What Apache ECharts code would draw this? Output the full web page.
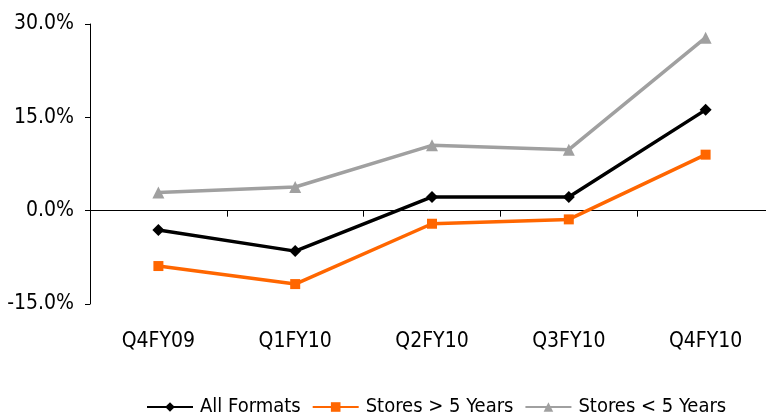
<!DOCTYPE html>
<html>
<head>
<meta charset="utf-8">
<script src="https://cdn.jsdelivr.net/npm/echarts@6/dist/echarts.min.js"></script>
<style>
  html, body { margin: 0; padding: 0; background: #fff; }
  #chart { width: 766px; height: 417px; }
</style>
</head>
<body>
<div id="chart"></div>
<script>
// Quarterly same-store growth, in percent
const quarters = ['Q4FY09', 'Q1FY10', 'Q2FY10', 'Q3FY10', 'Q4FY10'];
const allFormats = [-3.1, -6.5, 2.2, 2.2, 16.2];
const storesOver5 = [-8.9, -11.8, -2.1, -1.4, 9.0];
const storesUnder5 = [2.9, 3.8, 10.5, 9.8, 27.8];
const yTicks = { min: -15, max: 30, step: 15 };

const FONT = '"DejaVu Sans Condensed", "Liberation Sans", Arial, sans-serif';

const chart = echarts.init(document.getElementById('chart'), null, { renderer: 'canvas' });

function lineSeries(name, data, color, symbol, size) {
  return {
    name: name,
    type: 'line',
    data: data,
    symbol: symbol,
    symbolSize: size,
    showAllSymbol: true,
    lineStyle: { color: color, width: 3.5 },
    itemStyle: { color: color },
    emphasis: { disabled: true },
    animation: false
  };
}

chart.setOption({
  backgroundColor: '#ffffff',
  animation: false,
  // plot area runs a little past the right edge of the canvas
  grid: {
    left: 90, top: 24, width: 684, height: 280,
    containLabel: false,
    outerBoundsMode: 'none'
  },
  legend: {
    top: 397,
    left: 146,
    width: 640,
    padding: 0,
    itemWidth: 46,
    itemHeight: 12,
    itemGap: 11,
    textStyle: { fontFamily: FONT, fontSize: 20, color: '#000', padding: [0, 0, 0, 2] },
    data: ['All Formats', 'Stores > 5 Years', 'Stores < 5 Years']
  },
  xAxis: [
    {
      type: 'category',
      data: quarters,
      boundaryGap: true,
      axisLine: { onZero: true, lineStyle: { color: '#000', width: 1 } },
      axisTick: { show: true, length: 6, lineStyle: { color: '#000' } },
      axisLabel: { show: false },
      splitLine: { show: false }
    },
    {
      type: 'category',
      data: quarters,
      position: 'bottom',
      boundaryGap: true,
      axisLine: { show: false },
      axisTick: { show: false },
      axisLabel: { margin: 27, fontFamily: FONT, fontSize: 21, color: '#000' },
      splitLine: { show: false }
    }
  ],
  yAxis: {
    type: 'value',
    min: yTicks.min,
    max: yTicks.max,
    interval: yTicks.step,
    axisLine: { show: true, lineStyle: { color: '#000', width: 1 } },
    axisTick: { show: true, length: 5, lineStyle: { color: '#000' } },
    axisLabel: {
      margin: 16,
      fontFamily: FONT,
      fontSize: 21,
      color: '#000',
      formatter: v => v.toFixed(1) + '%'
    },
    splitLine: { show: false }
  },
  series: [
    lineSeries('All Formats', allFormats, '#000000', 'diamond', 12),
    lineSeries('Stores > 5 Years', storesOver5, '#FF6600', 'rect', 10),
    lineSeries('Stores < 5 Years', storesUnder5, '#A0A0A0', 'triangle', 12)
  ]
});
</script>
</body>
</html>
